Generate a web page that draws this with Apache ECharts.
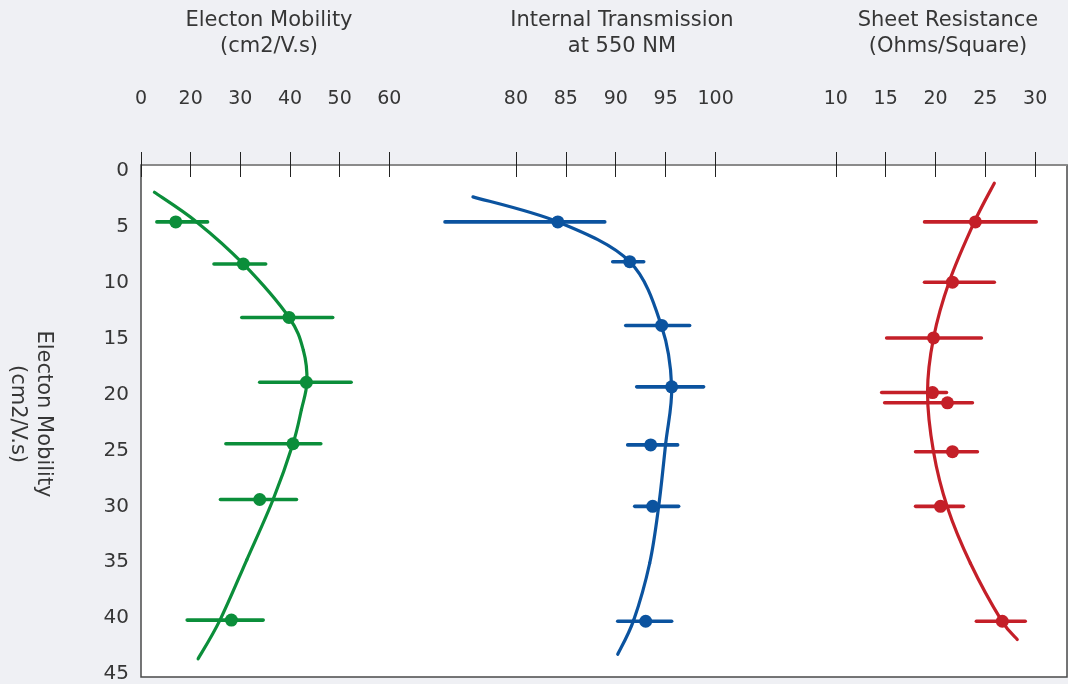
<!DOCTYPE html>
<html>
<head>
<meta charset="utf-8">
<script src="https://cdn.jsdelivr.net/npm/echarts@6/dist/echarts.min.js"></script>
<style>
  html, body { margin: 0; padding: 0; background: #eff0f4; }
  #chart { width: 1068px; height: 684px; }
</style>
</head>
<body>
<div id="chart"></div>
<script>
// ---- Electron mobility profile (depth vs. value) ----
const mobilityDepth = [5.0, 8.7, 13.4, 19.1, 24.5, 29.4, 40.0];
const mobilityValue = [17.0, 30.6, 39.8, 43.3, 40.6, 33.9, 28.2];
const mobilityLow   = [13.2, 24.7, 30.3, 33.9, 27.1, 26.0, 19.3];
const mobilityHigh  = [23.4, 35.1, 48.6, 52.3, 46.2, 41.3, 34.6];
const mobilityFitDepth = [2.4, 5.0, 8.7, 13.4, 16.3, 19.1, 21.5, 24.5, 29.4, 34.7, 40.0, 43.4];
const mobilityFitValue = [12.7, 21.2, 30.6, 39.8, 42.7, 43.4, 42.3, 40.6, 36.6, 31.3, 25.9, 21.5];
const mobilityTickValues = [10, 20, 30, 40, 50, 60];
const mobilityTickLabels = ['0', '20', '30', '40', '50', '60'];

// ---- Internal transmission at 550 nm ----
const transDepth = [5.0, 8.5, 14.1, 19.5, 24.6, 30.0, 40.1];
const transValue = [84.2, 91.4, 94.6, 95.6, 93.5, 93.7, 93.0];
const transLow   = [72.9, 89.7, 91.0, 92.1, 91.2, 91.9, 90.2];
const transHigh  = [88.9, 92.8, 97.4, 98.8, 96.2, 96.3, 95.6];
const transFitDepth = [2.8, 5.0, 8.5, 14.2, 19.5, 24.5, 30.0, 35.0, 40.0, 43.0];
const transFitValue = [75.7, 84.2, 91.4, 94.6, 95.6, 95.0, 94.3, 93.4, 91.8, 90.2];
const transTickValues = [80, 85, 90, 95, 100];
const transTickLabels = ['80', '85', '90', '95', '100'];

// ---- Sheet resistance ----
const sheetDepth = [5.0, 10.3, 15.2, 20.0, 20.9, 25.2, 30.0, 40.1];
const sheetValue = [24.0, 21.7, 19.8, 19.7, 21.2, 21.7, 20.5, 26.7];
const sheetLow   = [18.9, 18.9, 15.1, 14.6, 14.9, 18.0, 18.0, 24.1];
const sheetHigh  = [30.1, 25.9, 24.6, 21.1, 23.7, 24.2, 22.8, 29.0];
const sheetFitDepth = [1.6, 5.0, 10.2, 15.2, 20.0, 25.2, 30.1, 35.0, 40.0, 41.7];
const sheetFitValue = [25.9, 23.9, 21.4, 19.8, 19.2, 19.8, 21.2, 23.5, 26.6, 28.2];
const sheetTickValues = [10, 15, 20, 25, 30];
const sheetTickLabels = ['10', '15', '20', '25', '30'];

// ---- shared depth axis ----
const depthMin = 0, depthMax = 45, depthStep = 5;

const FONT = '"DejaVu Sans", "Noto Sans", sans-serif';
const TEXT = '#363636';
const GREEN = '#0b8e3a', BLUE = '#0b539f', RED = '#c41f28';

const PLOT = { left: 141, top: 165, width: 926, height: 512 };
const grids = [
  { left: 141, top: PLOT.top, width: 298, height: PLOT.height },
  { left: 439, top: PLOT.top, width: 337, height: PLOT.height },
  { left: 776, top: PLOT.top, width: 291, height: PLOT.height },
  // depth labels run on their own slightly tighter scale
  { left: 141, top: 171, width: 926, height: 504 }
];
const xRanges = [[10, 70], [72.3, 106.05], [4, 33.19]];

function topAxis(i, ticks, labels) {
  return {
    type: 'value', gridIndex: i, position: 'top', offset: -12,
    min: xRanges[i][0], max: xRanges[i][1],
    axisLine: { show: false },
    axisTick: { show: true, inside: false, length: 25, customValues: ticks,
                lineStyle: { color: '#222', width: 1 } },
    axisLabel: { show: true, customValues: ticks, margin: 68,
                 formatter: v => labels[ticks.indexOf(v)],
                 color: TEXT, fontSize: 19, fontFamily: FONT },
    splitLine: { show: false }
  };
}
function depthAxis(i, visible) {
  return {
    type: 'value', gridIndex: i, inverse: true,
    min: depthMin, max: depthMax, interval: depthStep,
    show: visible,
    axisLine: { show: false }, axisTick: { show: false },
    axisLabel: { color: TEXT, fontSize: 20, fontFamily: FONT, margin: 12 },
    splitLine: { show: false }
  };
}

function zip2(a, b) { return a.map((v, k) => [v, b[k]]); }
function zip3(a, b, c) { return a.map((v, k) => [v, b[k], c[k]]); }

// Smooth fitted profile: Catmull-Rom spline through the fit points,
// one cubic segment per data item, positioned via the axes.
function fitRenderer(color) {
  return function (params, api) {
    const n = params.dataInsideLength;
    const i = params.dataIndexInside;
    if (i >= n - 1) return null;
    const P = k => api.coord([api.value(0, k), api.value(1, k)]);
    const p0 = P(Math.max(i - 1, 0)), p1 = P(i), p2 = P(i + 1), p3 = P(Math.min(i + 2, n - 1));
    return {
      type: 'bezierCurve',
      shape: {
        x1: p1[0], y1: p1[1], x2: p2[0], y2: p2[1],
        cpx1: p1[0] + (p2[0] - p0[0]) / 6, cpy1: p1[1] + (p2[1] - p0[1]) / 6,
        cpx2: p2[0] - (p3[0] - p1[0]) / 6, cpy2: p2[1] - (p3[1] - p1[1]) / 6
      },
      style: { stroke: color, fill: 'none', lineWidth: 3.2, lineCap: 'round' }
    };
  };
}

function profileSeries(i, color, depth, value, low, high, fitDepth, fitValue) {
  return [
    {
      type: 'custom', xAxisIndex: i, yAxisIndex: i,
      data: zip2(fitValue, fitDepth), encode: { x: 0, y: 1 },
      renderItem: fitRenderer(color), z: 2
    },
    {
      type: 'custom', xAxisIndex: i, yAxisIndex: i,
      data: zip3(depth, low, high),
      encode: { x: [1, 2], y: 0 },
      renderItem(params, api) {
        const d = api.value(0);
        const a = api.coord([api.value(1), d]);
        const b = api.coord([api.value(2), d]);
        return {
          type: 'line',
          shape: { x1: a[0], y1: a[1], x2: b[0], y2: b[1] },
          style: { stroke: color, lineWidth: 3.6, lineCap: 'round' }
        };
      },
      z: 3
    },
    {
      type: 'scatter', xAxisIndex: i, yAxisIndex: i,
      data: zip2(value, depth), symbol: 'circle', symbolSize: 13,
      itemStyle: { color, opacity: 1 }, z: 4
    }
  ];
}

const chart = echarts.init(document.getElementById('chart'), null, { renderer: 'canvas' });
chart.setOption({
  backgroundColor: '#eff0f4',
  animation: false,
  grid: grids,
  xAxis: [
    topAxis(0, mobilityTickValues, mobilityTickLabels),
    topAxis(1, transTickValues, transTickLabels),
    topAxis(2, sheetTickValues, sheetTickLabels),
    { type: 'value', gridIndex: 3, show: false, min: 0, max: 1 }
  ],
  yAxis: [depthAxis(0, false), depthAxis(1, false), depthAxis(2, false), depthAxis(3, true)],
  graphic: [
    { type: 'rect', z: -10, silent: true,
      shape: { x: PLOT.left, y: PLOT.top, width: PLOT.width, height: PLOT.height },
      style: { fill: '#ffffff', stroke: '#4a4a4a', lineWidth: 1.5 } },
    { type: 'line', z: -5, silent: true,
      shape: { x1: PLOT.left, y1: PLOT.top, x2: PLOT.left + PLOT.width, y2: PLOT.top },
      style: { stroke: '#8a8a8a', lineWidth: 2 } },
    { type: 'text', silent: true, x: 269, y: 34,
      style: { text: 'Electon Mobility\n(cm2/V.s)', textAlign: 'center', textVerticalAlign: 'middle',
               lineHeight: 26, font: '21px ' + FONT, fill: TEXT } },
    { type: 'text', silent: true, x: 622, y: 34,
      style: { text: 'Internal Transmission\nat 550 NM', textAlign: 'center', textVerticalAlign: 'middle',
               lineHeight: 26, font: '21px ' + FONT, fill: TEXT } },
    { type: 'text', silent: true, x: 948, y: 34,
      style: { text: 'Sheet Resistance\n(Ohms/Square)', textAlign: 'center', textVerticalAlign: 'middle',
               lineHeight: 26, font: '21px ' + FONT, fill: TEXT } },
    { type: 'text', silent: true, x: 30, y: 414, rotation: -Math.PI / 2,
      style: { text: 'Electon Mobility\n(cm2/V.s)', textAlign: 'center', textVerticalAlign: 'middle',
               lineHeight: 26, font: '21px ' + FONT, fill: TEXT } }
  ],
  series: [
    ...profileSeries(0, GREEN, mobilityDepth, mobilityValue, mobilityLow, mobilityHigh, mobilityFitDepth, mobilityFitValue),
    ...profileSeries(1, BLUE, transDepth, transValue, transLow, transHigh, transFitDepth, transFitValue),
    ...profileSeries(2, RED, sheetDepth, sheetValue, sheetLow, sheetHigh, sheetFitDepth, sheetFitValue)
  ]
});
</script>
</body>
</html>
